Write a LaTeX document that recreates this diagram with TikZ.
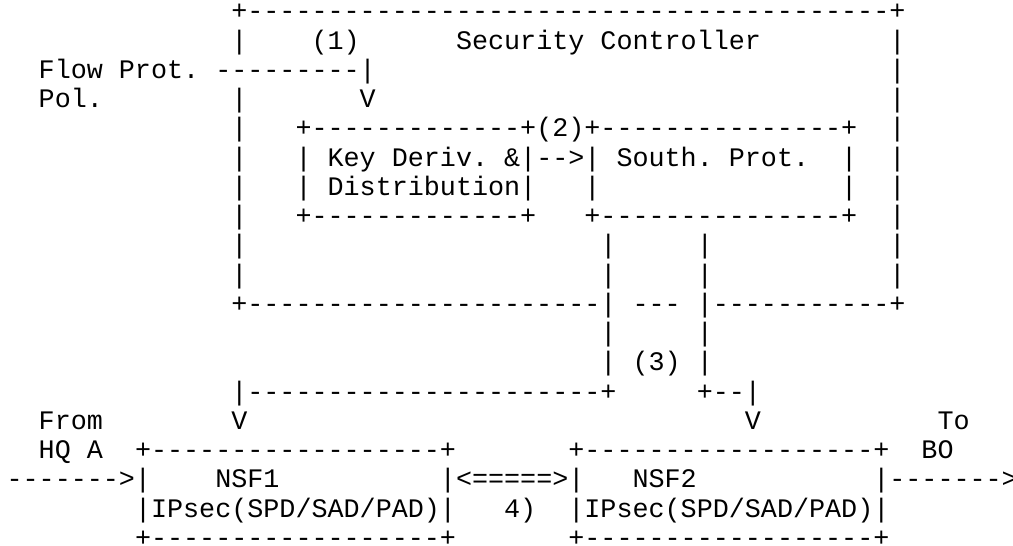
\documentclass[tikz,border=0pt]{standalone}
\usepackage{fontspec}
\setmonofont{Liberation Mono}

% Character grid: cell width 8.025pt, line pitch 14.63pt
\newcommand\asc[3]{%
  \node[ascii] (r#2c#1) at ({(3.3+#1*8.025)*1pt},{-(9.9+#2*14.63)*1pt}) {#3};}

\begin{document}
\begin{tikzpicture}[
  ascii/.style={font=\ttfamily\fontsize{13.375pt}{14.63pt}\selectfont,
                anchor=base west, inner sep=0pt, outer sep=0pt, text=black}]
\fill[white] (0,0) rectangle (506.5pt,-273pt);
\useasboundingbox (0,0) rectangle (506.5pt,-273pt);

% Security Controller frame and inner blocks
\asc{14}{0}{+----------------------------------------+}
\asc{14}{1}{|} \asc{19}{1}{(1)} \asc{28}{1}{Security Controller} \asc{55}{1}{|}
\asc{2}{2}{Flow Prot.} \asc{13}{2}{---------|} \asc{55}{2}{|}
\asc{2}{3}{Pol.} \asc{14}{3}{|} \asc{22}{3}{V} \asc{55}{3}{|}
\asc{14}{4}{|} \asc{18}{4}{+-------------+(2)+---------------+} \asc{55}{4}{|}
\asc{14}{5}{|} \asc{18}{5}{|} \asc{20}{5}{Key Deriv. \&|-->|} \asc{38}{5}{South. Prot.} \asc{52}{5}{|} \asc{55}{5}{|}
\asc{14}{6}{|} \asc{18}{6}{|} \asc{20}{6}{Distribution|} \asc{36}{6}{|} \asc{52}{6}{|} \asc{55}{6}{|}
\asc{14}{7}{|} \asc{18}{7}{+-------------+} \asc{36}{7}{+---------------+} \asc{55}{7}{|}
\asc{14}{8}{|} \asc{37}{8}{|} \asc{43}{8}{|} \asc{55}{8}{|}
\asc{14}{9}{|} \asc{37}{9}{|} \asc{43}{9}{|} \asc{55}{9}{|}
\asc{14}{10}{+----------------------|} \asc{39}{10}{---} \asc{43}{10}{|-----------+}

% Southbound channels (3)
\asc{37}{11}{|} \asc{43}{11}{|}
\asc{37}{12}{|} \asc{39}{12}{(3)} \asc{43}{12}{|}
\asc{14}{13}{|----------------------+} \asc{43}{13}{+--|}
\asc{2}{14}{From} \asc{14}{14}{V} \asc{46}{14}{V} \asc{58}{14}{To}

% NSF boxes and traffic path
\asc{2}{15}{HQ A} \asc{8}{15}{+------------------+} \asc{35}{15}{+------------------+} \asc{57}{15}{BO}
\asc{0}{16}{------->|} \asc{13}{16}{NSF1} \asc{27}{16}{|<=====>|} \asc{39}{16}{NSF2} \asc{54}{16}{|------->}
\asc{8}{17}{|IPsec(SPD/SAD/PAD)|} \asc{31}{17}{4)} \asc{35}{17}{|IPsec(SPD/SAD/PAD)|}
\asc{8}{18}{+------------------+} \asc{35}{18}{+------------------+}
\end{tikzpicture}
\end{document}
